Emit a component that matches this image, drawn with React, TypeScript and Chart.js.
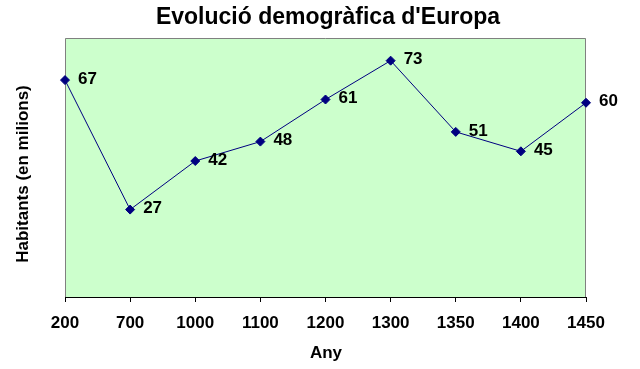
import React, { useEffect, useRef } from "react";
import { Chart, registerables } from "chart.js";

Chart.register(...registerables);

const categories = ["200", "700", "1000", "1100", "1200", "1300", "1350", "1400", "1450"];
const population = [67, 27, 42, 48, 61, 73, 51, 45, 60];
const chartTitle = "Evolució demogràfica d'Europa";
const xTitle = "Any";
const yTitle = "Habitants (en milions)";

const FONT = "'Liberation Sans', Arial, sans-serif";

const decorPlugin = {
  id: "decor",
  beforeDraw(chart: any) {
    const { ctx, chartArea } = chart;
    const { left, top, right, bottom } = chartArea;
    ctx.save();
    ctx.fillStyle = "#CCFFCC";
    ctx.fillRect(left, top, right - left, bottom - top);
    ctx.strokeStyle = "#808080";
    ctx.lineWidth = 1;
    ctx.beginPath();
    ctx.moveTo(left + 0.5, bottom);
    ctx.lineTo(left + 0.5, top + 0.5);
    ctx.lineTo(right - 0.5, top + 0.5);
    ctx.lineTo(right - 0.5, bottom);
    ctx.stroke();
    ctx.restore();
  },
  afterDraw(chart: any) {
    const { ctx } = chart;
    ctx.save();
    ctx.fillStyle = "#000";
    ctx.font = `bold 23px ${FONT}`;
    ctx.textAlign = "center";
    ctx.textBaseline = "middle";
    ctx.fillText(chartTitle, 328, 18);
    ctx.font = `bold 17px ${FONT}`;
    ctx.fillText(xTitle, 326, 353);
    ctx.translate(23, 174);
    ctx.rotate(-Math.PI / 2);
    ctx.fillText(yTitle, 0, 0);
    ctx.restore();
  },
  afterDatasetsDraw(chart: any) {
    const { ctx } = chart;
    const meta = chart.getDatasetMeta(0);
    const data = chart.data.datasets[0].data;
    ctx.save();
    ctx.fillStyle = "#000";
    ctx.font = `bold 17px ${FONT}`;
    ctx.textAlign = "left";
    ctx.textBaseline = "middle";
    meta.data.forEach((pt: any, i: number) => {
      ctx.fillText(String(data[i]), pt.x + 13, pt.y - 1);
    });
    ctx.restore();
  },
};

export default function App() {
  const ref = useRef<HTMLCanvasElement>(null);
  useEffect(() => {
    if (!ref.current) return;
    const chart = new Chart(ref.current, {
      type: "line",
      data: {
        labels: categories,
        datasets: [
          {
            data: population,
            borderColor: "#000080",
            backgroundColor: "#000080",
            borderWidth: 1,
            pointStyle: "rectRot",
            pointRadius: 4.5,
            pointBackgroundColor: "#000080",
            pointBorderColor: "#000080",
            tension: 0,
          },
        ],
      },
      options: {
        responsive: true,
        maintainAspectRatio: false,
        animation: false,
        layout: { padding: { left: 65, right: 54, top: 38, bottom: 0 } },
        plugins: {
          legend: { display: false },
          tooltip: { enabled: false },
          title: { display: false },
        },
        scales: {
          x: {
            offset: false,
            afterFit(scale: any) {
              scale.height = 72;
            },
            grid: {
              display: true,
              drawOnChartArea: false,
              drawTicks: true,
              tickLength: 5,
              color: "#000",
            },
            border: { display: true, color: "#000", width: 1 },
            ticks: {
              color: "#000",
              font: { family: FONT, size: 17, weight: "bold" },
              padding: 11,
              maxRotation: 0,
              autoSkip: false,
            },
          },
          y: {
            display: false,
            min: 0,
            max: 80,
          },
        },
      },
      plugins: [decorPlugin],
    });
    return () => chart.destroy();
  }, []);
  return (
    <div style={{ position: "absolute", left: 0, top: 0, width: 640, height: 369 }}>
      <canvas ref={ref} />
    </div>
  );
}
